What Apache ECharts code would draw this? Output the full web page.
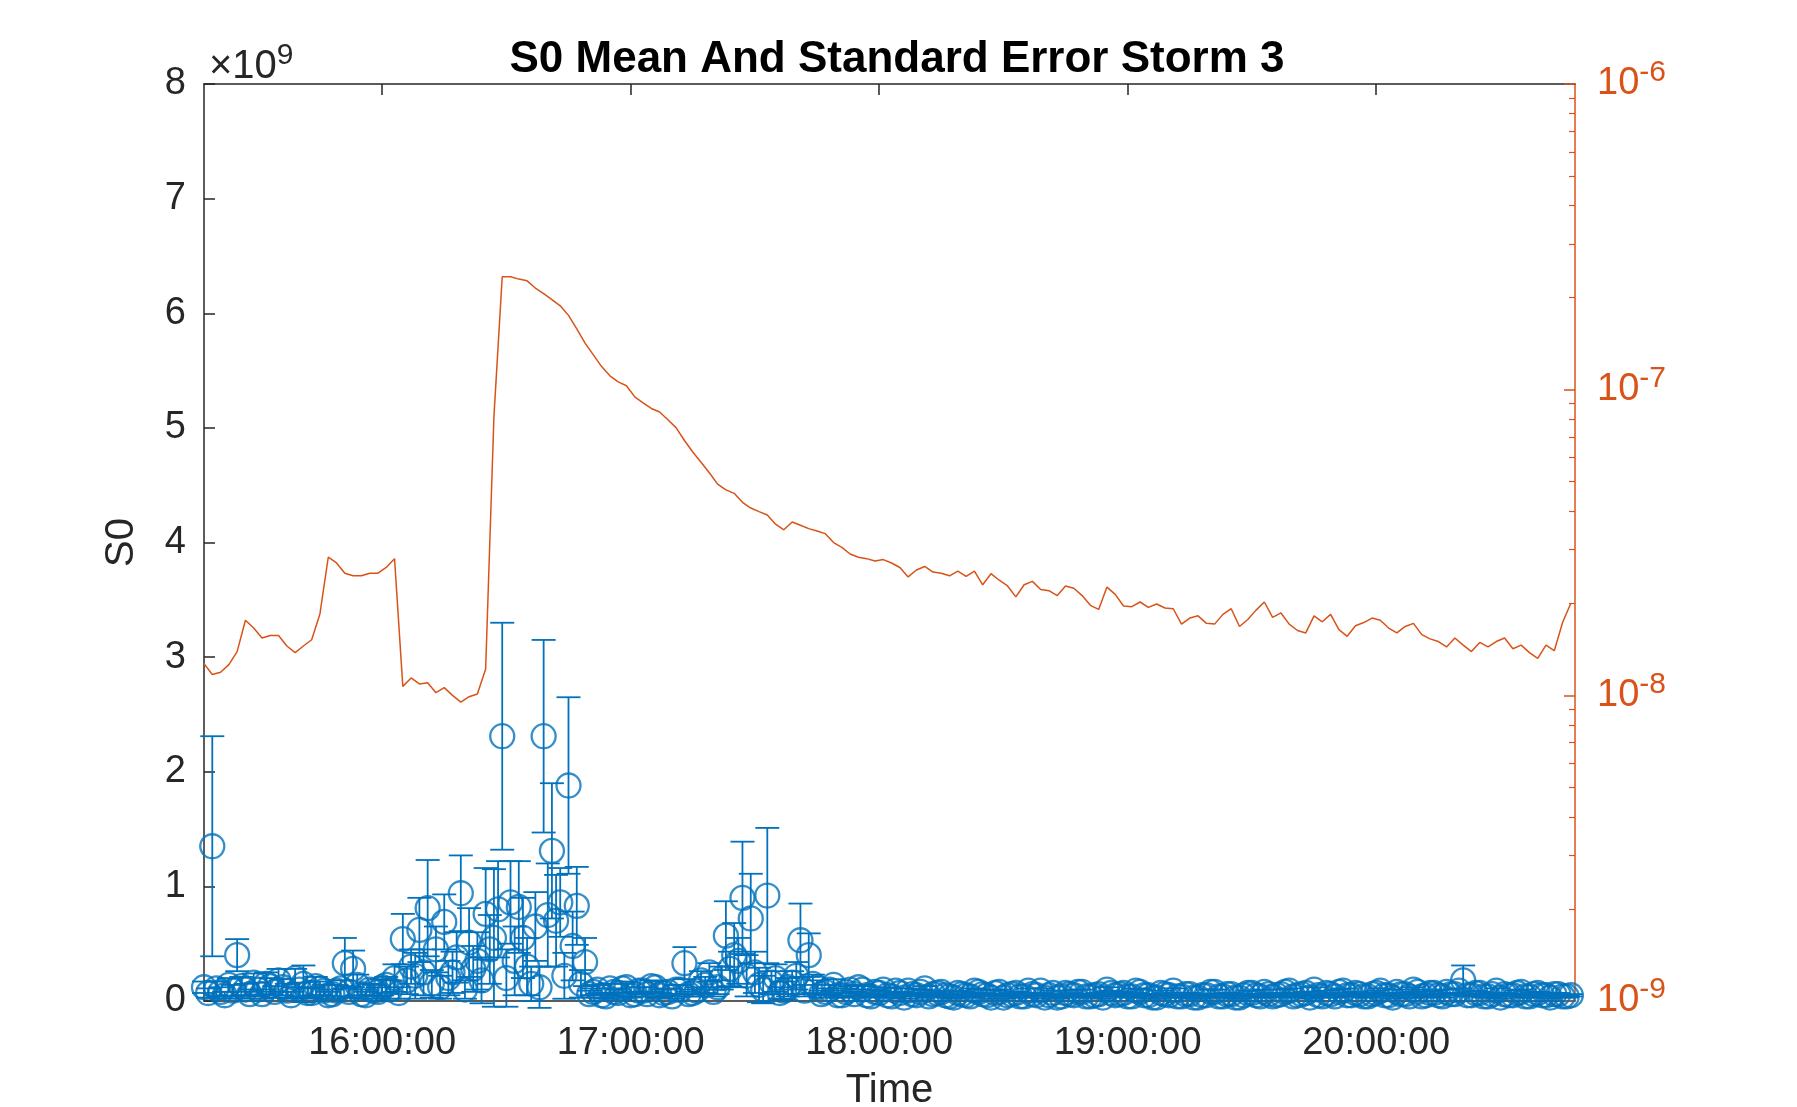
<!DOCTYPE html>
<html>
<head>
<meta charset="utf-8">
<title>S0 Mean And Standard Error Storm 3</title>
<script src="https://cdn.jsdelivr.net/npm/echarts@6/dist/echarts.min.js"></script>
<style>
html, body { margin: 0; padding: 0; background: #fff; }
#chart { width: 1797px; height: 1107px; }
</style>
</head>
<body>
<div id="chart"></div>
<script>
// time in minutes after midnight; odd-minute samples 15:17 .. 20:47, even-minute ones 15:18 .. 20:46
const startMinute = 917;
const startMinuteEven = 918;
const stepMinutes = 2;

// S0 mean and standard error at the odd minutes, in units of 1e9
const s0Mean = [
    0.12, 1.35, 0.08, 0.14, 0.40, 0.10, 0.16, 0.06, 0.13, 0.18,
    0.09, 0.20, 0.15, 0.07, 0.11, 0.05, 0.09, 0.33, 0.28, 0.06,
    0.10, 0.08, 0.14, 0.20, 0.54, 0.30, 0.62, 0.81, 0.45, 0.69,
    0.25, 0.94, 0.51, 0.35, 0.76, 0.55, 2.31, 0.86, 0.82, 0.30,
    0.65, 2.31, 1.31, 0.86, 1.88, 0.83, 0.34, 0.08, 0.05, 0.11,
    0.07, 0.12, 0.06, 0.09, 0.13, 0.05, 0.08, 0.10, 0.33, 0.07,
    0.18, 0.25, 0.12, 0.57, 0.40, 0.90, 0.72, 0.14, 0.92, 0.20,
    0.09, 0.16, 0.53, 0.40, 0.12, 0.08, 0.14, 0.05, 0.10,
    0.12, 0.05, 0.08, 0.10, 0.04, 0.07, 0.09, 0.05, 0.11, 0.06,
    0.08, 0.04, 0.07, 0.05, 0.09, 0.06, 0.03, 0.08, 0.05, 0.07,
    0.04, 0.06, 0.09, 0.05, 0.03, 0.07, 0.05, 0.08, 0.04, 0.06,
    0.10, 0.05, 0.07, 0.04, 0.08, 0.05, 0.03, 0.06, 0.09, 0.04,
    0.06, 0.03, 0.05, 0.08, 0.04, 0.06, 0.03, 0.07, 0.05, 0.08,
    0.04, 0.06, 0.09, 0.05, 0.07, 0.10, 0.04, 0.06, 0.08, 0.05,
    0.07, 0.04, 0.06, 0.09, 0.05, 0.08, 0.06, 0.10, 0.04, 0.07,
    0.05, 0.08, 0.06, 0.18, 0.05, 0.07, 0.04, 0.09, 0.06, 0.05,
    0.08, 0.04, 0.07, 0.05, 0.06, 0.04, 0.05
];
const s0Err = [
    0.05, 0.96, 0.04, 0.06, 0.14, 0.05, 0.08, 0.04, 0.07, 0.10,
    0.06, 0.08, 0.16, 0.05, 0.06, 0.03, 0.05, 0.22, 0.16, 0.04,
    0.05, 0.04, 0.07, 0.12, 0.22, 0.15, 0.28, 0.42, 0.20, 0.24,
    0.18, 0.33, 0.30, 0.25, 0.40, 0.60, 0.99, 0.36, 0.40, 0.25,
    0.30, 0.84, 0.59, 0.30, 0.77, 0.34, 0.21, 0.03, 0.02, 0.04,
    0.03, 0.05, 0.02, 0.03, 0.05, 0.02, 0.03, 0.04, 0.14, 0.03,
    0.08, 0.08, 0.06, 0.30, 0.28, 0.49, 0.39, 0.15, 0.59, 0.12,
    0.08, 0.10, 0.32, 0.19, 0.06, 0.03, 0.05, 0.02, 0.03,
    0.02, 0.01, 0.02, 0.02, 0.01, 0.01, 0.02, 0.01, 0.02, 0.01,
    0.01, 0.01, 0.02, 0.01, 0.02, 0.01, 0.01, 0.02, 0.01, 0.01,
    0.01, 0.01, 0.02, 0.01, 0.01, 0.02, 0.01, 0.02, 0.01, 0.01,
    0.02, 0.01, 0.01, 0.01, 0.02, 0.01, 0.01, 0.01, 0.02, 0.01,
    0.01, 0.01, 0.01, 0.02, 0.01, 0.01, 0.01, 0.02, 0.01, 0.02,
    0.01, 0.01, 0.02, 0.01, 0.01, 0.02, 0.01, 0.01, 0.02, 0.01,
    0.01, 0.01, 0.01, 0.02, 0.01, 0.02, 0.01, 0.02, 0.01, 0.01,
    0.01, 0.02, 0.01, 0.13, 0.01, 0.01, 0.01, 0.02, 0.01, 0.01,
    0.02, 0.01, 0.01, 0.01, 0.01, 0.01, 0.01
];

// S0 mean and standard error at the even minutes, in units of 1e9
const s0MeanEven = [
    0.07, 0.11, 0.05, 0.09, 0.13, 0.06, 0.10, 0.15, 0.08, 0.12,
    0.05, 0.10, 0.07, 0.13, 0.09, 0.06, 0.11, 0.08, 0.14, 0.05,
    0.09, 0.12, 0.10, 0.07, 0.18, 0.22, 0.25, 0.15, 0.12, 0.20,
    0.38, 0.10, 0.28, 0.18, 0.45, 0.80, 0.20, 0.35, 0.55, 0.15,
    0.12, 0.75, 0.70, 0.22, 0.48, 0.15, 0.06, 0.10, 0.04, 0.08,
    0.11, 0.05, 0.09, 0.06, 0.12, 0.07, 0.04, 0.10, 0.06, 0.09,
    0.14, 0.08, 0.20, 0.28, 0.35, 0.22, 0.25, 0.10, 0.16, 0.07,
    0.12, 0.22, 0.09, 0.15, 0.06, 0.10, 0.05, 0.08, 0.06, 0.10,
    0.04, 0.07, 0.05, 0.09, 0.03, 0.06, 0.08, 0.04, 0.07, 0.05,
    0.03, 0.06, 0.04, 0.08, 0.05, 0.07, 0.03, 0.06, 0.04, 0.09,
    0.05, 0.03, 0.07, 0.04, 0.06, 0.08, 0.04, 0.05, 0.03, 0.07,
    0.06, 0.04, 0.09, 0.05, 0.03, 0.07, 0.05, 0.04, 0.06, 0.03,
    0.05, 0.08, 0.04, 0.06, 0.03, 0.05, 0.07, 0.04, 0.06, 0.05,
    0.08, 0.04, 0.06, 0.03, 0.05, 0.07, 0.04, 0.09, 0.05, 0.06,
    0.04, 0.07, 0.05, 0.03, 0.06, 0.04, 0.08, 0.05, 0.07, 0.04,
    0.06, 0.09, 0.05, 0.07, 0.04, 0.06, 0.03, 0.05, 0.07, 0.04,
    0.06, 0.05, 0.03, 0.06, 0.04
];
const s0ErrEven = [
    0.04, 0.06, 0.03, 0.05, 0.08, 0.04, 0.06, 0.10, 0.05, 0.07,
    0.03, 0.06, 0.04, 0.08, 0.05, 0.04, 0.07, 0.05, 0.09, 0.03,
    0.05, 0.07, 0.08, 0.05, 0.12, 0.20, 0.20, 0.12, 0.10, 0.15,
    0.22, 0.08, 0.20, 0.20, 0.30, 0.42, 0.25, 0.30, 0.35, 0.15,
    0.18, 0.45, 0.40, 0.20, 0.30, 0.12, 0.03, 0.04, 0.02, 0.03,
    0.04, 0.02, 0.03, 0.02, 0.05, 0.03, 0.02, 0.04, 0.02, 0.03,
    0.07, 0.04, 0.10, 0.15, 0.20, 0.18, 0.18, 0.12, 0.10, 0.05,
    0.08, 0.12, 0.05, 0.08, 0.03, 0.04, 0.02, 0.03, 0.02, 0.03,
    0.01, 0.02, 0.01, 0.02, 0.01, 0.01, 0.02, 0.01, 0.02, 0.01,
    0.01, 0.02, 0.01, 0.02, 0.01, 0.02, 0.01, 0.01, 0.01, 0.02,
    0.01, 0.01, 0.02, 0.01, 0.01, 0.02, 0.01, 0.01, 0.01, 0.02,
    0.01, 0.01, 0.02, 0.01, 0.01, 0.02, 0.01, 0.01, 0.01, 0.01,
    0.01, 0.02, 0.01, 0.01, 0.01, 0.01, 0.02, 0.01, 0.01, 0.01,
    0.02, 0.01, 0.01, 0.01, 0.01, 0.02, 0.01, 0.02, 0.01, 0.01,
    0.01, 0.02, 0.01, 0.01, 0.01, 0.01, 0.02, 0.01, 0.02, 0.01,
    0.01, 0.02, 0.01, 0.02, 0.01, 0.01, 0.01, 0.01, 0.02, 0.01,
    0.01, 0.01, 0.01, 0.01, 0.01
];

// right axis series at the odd minutes, in units of 1e-8
const fluxE8 = [
    1.27, 1.17, 1.19, 1.26, 1.39, 1.76, 1.66, 1.54, 1.57, 1.57,
    1.45, 1.38, 1.45, 1.52, 1.85, 2.83, 2.71, 2.51, 2.46, 2.46,
    2.51, 2.51, 2.62, 2.80, 1.07, 1.14, 1.09, 1.10, 1.02, 1.06,
    1.00, 0.95, 0.99, 1.01, 1.22, 8.18, 23.4, 23.4, 23.0, 22.7,
    21.5, 20.6, 19.7, 18.8, 17.5, 15.8, 14.2, 13.0, 11.9, 11.1,
    10.6, 10.3, 9.47, 9.06, 8.68, 8.45, 7.97, 7.50, 6.82, 6.25,
    5.79, 5.35, 4.91, 4.70, 4.58, 4.28, 4.10, 3.99, 3.89, 3.63,
    3.48, 3.69, 3.60, 3.51, 3.45, 3.38, 3.16, 3.05, 2.90, 2.83,
    2.80, 2.75, 2.78, 2.71, 2.62, 2.44, 2.57, 2.64, 2.53, 2.51,
    2.46, 2.55, 2.45, 2.55, 2.30, 2.50, 2.38, 2.28, 2.10, 2.30,
    2.36, 2.22, 2.20, 2.12, 2.28, 2.24, 2.12, 1.97, 1.91, 2.26,
    2.14, 1.96, 1.95, 2.02, 1.94, 1.99, 1.93, 1.92, 1.71, 1.79,
    1.82, 1.72, 1.71, 1.84, 1.92, 1.68, 1.77, 1.90, 2.02, 1.80,
    1.86, 1.71, 1.63, 1.60, 1.82, 1.74, 1.84, 1.64, 1.56, 1.69,
    1.73, 1.79, 1.76, 1.66, 1.60, 1.68, 1.72, 1.58, 1.53, 1.50,
    1.44, 1.54, 1.46, 1.39, 1.49, 1.44, 1.50, 1.54, 1.42, 1.46,
    1.38, 1.32, 1.46, 1.40, 1.73, 2.00
];

const hourTicks = [960, 1020, 1080, 1140, 1200];

const BLUE = "#0072BD";
const ORANGE = "#D95319";
const INK = "#262626";
const FONT = "'Liberation Sans', Arial, sans-serif";

function clock(v) {
    const h = Math.floor(v / 60);
    const m = v % 60;
    return String(h).padStart(2, "0") + ":" + String(m).padStart(2, "0") + ":00";
}

const times = s0Mean.map((_, i) => startMinute + i * stepMinutes);
const timesEven = s0MeanEven.map((_, i) => startMinuteEven + i * stepMinutes);
const points = times
    .map((t, i) => [t, s0Mean[i], s0Err[i]])
    .concat(timesEven.map((t, i) => [t, s0MeanEven[i], s0ErrEven[i]]))
    .sort((a, b) => a[0] - b[0]);
const fluxLine = times.map((t, i) => [t, fluxE8[i] * 1e-8]);

function renderErrorBar(params, api) {
    const t = api.value(0);
    const m = api.value(1);
    const e = api.value(2);
    const hi = api.coord([t, m + e]);
    const lo = api.coord([t, m - e]);
    const cap = 12;
    const style = { stroke: BLUE, lineWidth: 1.8 };
    return {
        type: "group",
        children: [
            { type: "line", shape: { x1: hi[0], y1: hi[1], x2: lo[0], y2: lo[1] }, style },
            { type: "line", shape: { x1: hi[0] - cap, y1: hi[1], x2: hi[0] + cap, y2: hi[1] }, style },
            { type: "line", shape: { x1: lo[0] - cap, y1: lo[1], x2: lo[0] + cap, y2: lo[1] }, style }
        ]
    };
}

const chart = echarts.init(document.getElementById("chart"));
chart.setOption({
    animation: false,
    backgroundColor: "#fff",
    textStyle: { fontFamily: FONT },
    title: [
        {
            text: "S0 Mean And Standard Error Storm 3",
            left: 892,
            textAlign: "center",
            top: 33,
            textStyle: { fontSize: 44, fontWeight: "bold", color: "#000", fontFamily: FONT }
        },
        {
            text: "×10{s|9}",
            left: 204,
            top: 36,
            textStyle: {
                fontSize: 40, fontWeight: "normal", color: INK, fontFamily: FONT,
                rich: { s: { fontSize: 30, color: INK, fontFamily: FONT, padding: [0, 0, 22, 0] } }
            }
        }
    ],
    grid: { left: 204, right: 222, top: 84, bottom: 106, outerBoundsMode: "none", containLabel: false },
    xAxis: [
        {
            type: "value",
            min: 917,
            max: 1248,
            position: "bottom",
            axisLine: { show: true, onZero: false, lineStyle: { color: INK, width: 1.5 } },
            axisTick: { show: true, inside: true, length: 11, customValues: hourTicks, lineStyle: { color: INK, width: 1.5 } },
            axisLabel: { customValues: hourTicks, formatter: clock, fontSize: 38, color: INK, margin: 24, fontFamily: FONT },
            splitLine: { show: false },
            name: "Time",
            nameLocation: "middle",
            nameGap: 70,
            nameTextStyle: { fontSize: 40, color: INK, fontFamily: FONT }
        },
        {
            type: "value",
            min: 917,
            max: 1248,
            position: "top",
            axisLine: { show: true, onZero: false, lineStyle: { color: INK, width: 1.5 } },
            axisTick: { show: true, inside: true, length: 11, customValues: hourTicks, lineStyle: { color: INK, width: 1.5 } },
            axisLabel: { show: false },
            splitLine: { show: false }
        }
    ],
    yAxis: [
        {
            type: "value",
            min: 0,
            max: 8,
            interval: 1,
            position: "left",
            axisLine: { show: true, onZero: false, lineStyle: { color: INK, width: 1.5 } },
            axisTick: { show: true, inside: true, length: 11, lineStyle: { color: INK, width: 1.5 } },
            axisLabel: { fontSize: 38, color: INK, margin: 18, fontFamily: FONT },
            splitLine: { show: false },
            name: "S0",
            nameLocation: "middle",
            nameGap: 62,
            nameTextStyle: { fontSize: 40, color: INK, fontFamily: FONT }
        },
        {
            type: "log",
            logBase: 10,
            min: 1e-9,
            max: 1e-6,
            position: "right",
            axisLine: { show: true, onZero: false, lineStyle: { color: ORANGE, width: 1.5 } },
            axisTick: { show: true, inside: true, length: 11, lineStyle: { color: ORANGE, width: 1.5 } },
            minorTick: { show: true, splitNumber: 9, length: 6, lineStyle: { color: ORANGE, width: 1.2 } },
            axisLabel: {
                margin: 22,
                formatter: (v) => "{b|10}{s|" + Math.round(Math.log10(v)) + "}",
                rich: {
                    b: { fontSize: 38, color: ORANGE, fontFamily: FONT },
                    s: { fontSize: 30, color: ORANGE, fontFamily: FONT, padding: [0, 0, 22, 0] }
                }
            },
            splitLine: { show: false }
        }
    ],
    series: [
        {
            type: "line",
            xAxisIndex: 0,
            yAxisIndex: 1,
            data: fluxLine,
            showSymbol: false,
            lineStyle: { color: ORANGE, width: 1.5 },
            z: 2
        },
        {
            type: "custom",
            xAxisIndex: 0,
            yAxisIndex: 0,
            data: points,
            renderItem: renderErrorBar,
            encode: { x: 0, y: 1 },
            z: 3
        },
        {
            type: "scatter",
            xAxisIndex: 0,
            yAxisIndex: 0,
            data: points.map((p) => [p[0], p[1]]),
            symbol: "circle",
            symbolSize: 24,
            itemStyle: { color: "rgba(0,0,0,0)", borderColor: BLUE, borderWidth: 2.3 },
            emphasis: { disabled: true },
            z: 4
        }
    ]
});
</script>
</body>
</html>
